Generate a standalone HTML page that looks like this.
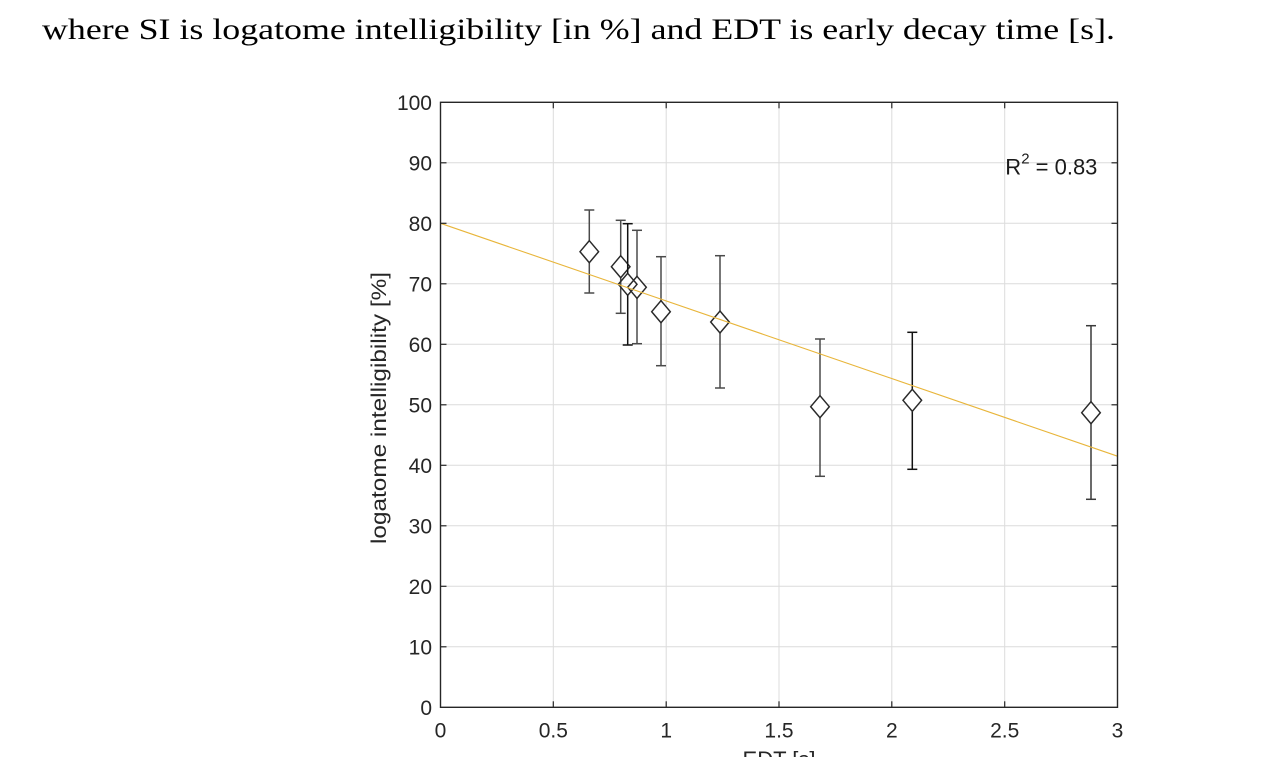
<!DOCTYPE html>
<html>
<head>
<meta charset="utf-8">
<style>
html,body{margin:0;padding:0;background:#fff;}
svg{display:block;}
</style>
</head>
<body>
<svg width="1264" height="757" viewBox="0 0 1264 757" xmlns="http://www.w3.org/2000/svg">
<rect width="1264" height="757" fill="#fff"/>
<!-- top sentence -->
<text x="42" y="39" font-family="'Liberation Serif', serif" font-size="30" fill="#000" textLength="1073" lengthAdjust="spacingAndGlyphs">where SI is logatome intelligibility [in %] and EDT is early decay time [s].</text>

<!-- plot background -->
<rect x="440.5" y="102.3" width="677" height="605" fill="#fff"/>

<!-- grid -->
<g stroke="#dcdcdc" stroke-width="1">
  <line x1="553.3" y1="102.3" x2="553.3" y2="707.3"/>
  <line x1="666.2" y1="102.3" x2="666.2" y2="707.3"/>
  <line x1="779" y1="102.3" x2="779" y2="707.3"/>
  <line x1="891.8" y1="102.3" x2="891.8" y2="707.3"/>
  <line x1="1004.7" y1="102.3" x2="1004.7" y2="707.3"/>
  <line x1="440.5" y1="646.8" x2="1117.5" y2="646.8"/>
  <line x1="440.5" y1="586.3" x2="1117.5" y2="586.3"/>
  <line x1="440.5" y1="525.8" x2="1117.5" y2="525.8"/>
  <line x1="440.5" y1="465.3" x2="1117.5" y2="465.3"/>
  <line x1="440.5" y1="404.8" x2="1117.5" y2="404.8"/>
  <line x1="440.5" y1="344.3" x2="1117.5" y2="344.3"/>
  <line x1="440.5" y1="283.8" x2="1117.5" y2="283.8"/>
  <line x1="440.5" y1="223.3" x2="1117.5" y2="223.3"/>
  <line x1="440.5" y1="162.8" x2="1117.5" y2="162.8"/>
</g>

<!-- error bars + markers -->
<g fill="#fff" stroke-width="1.5">
  <!-- P1 -->
  <g stroke="#4a4a4a">
    <line x1="589.3" y1="210" x2="589.3" y2="293"/>
    <line x1="584.3" y1="210" x2="594.3" y2="210"/>
    <line x1="584.3" y1="293" x2="594.3" y2="293"/>
  </g>
  <polygon points="589.3,240.7 598.6,251.7 589.3,262.7 580,251.7" stroke="#2a2a2a"/>
  <!-- P2 -->
  <g stroke="#4a4a4a">
    <line x1="620.7" y1="220.3" x2="620.7" y2="313.3"/>
    <line x1="615.7" y1="220.3" x2="625.7" y2="220.3"/>
    <line x1="615.7" y1="313.3" x2="625.7" y2="313.3"/>
  </g>
  <polygon points="620.7,255.7 630,266.7 620.7,277.7 611.4,266.7" stroke="#2a2a2a"/>
  <!-- P4 -->
  <g stroke="#4a4a4a">
    <line x1="637" y1="230.3" x2="637" y2="343.7"/>
    <line x1="632" y1="230.3" x2="642" y2="230.3"/>
    <line x1="632" y1="343.7" x2="642" y2="343.7"/>
  </g>
  <polygon points="637,276.3 646.3,287.3 637,298.3 627.7,287.3" stroke="#2a2a2a"/>
  <!-- P3 -->
  <polygon points="627.7,273.3 637,284.3 627.7,295.3 618.4,284.3" stroke="#2a2a2a" fill="none"/>
  <g stroke="#111">
    <line x1="627.7" y1="223.7" x2="627.7" y2="273.3"/>
    <line x1="627.7" y1="295.3" x2="627.7" y2="345"/>
    <line x1="622.7" y1="223.7" x2="632.7" y2="223.7"/>
    <line x1="622.7" y1="345" x2="632.7" y2="345"/>
  </g>
  <!-- P5 -->
  <g stroke="#4a4a4a">
    <line x1="661" y1="256.7" x2="661" y2="365.7"/>
    <line x1="656" y1="256.7" x2="666" y2="256.7"/>
    <line x1="656" y1="365.7" x2="666" y2="365.7"/>
  </g>
  <polygon points="661,300.7 670.3,311.7 661,322.7 651.7,311.7" stroke="#2a2a2a"/>
  <!-- P6 -->
  <g stroke="#4a4a4a">
    <line x1="720" y1="255.7" x2="720" y2="388"/>
    <line x1="715" y1="255.7" x2="725" y2="255.7"/>
    <line x1="715" y1="388" x2="725" y2="388"/>
  </g>
  <polygon points="720,311 729.3,322 720,333 710.7,322" stroke="#2a2a2a"/>
  <!-- P7 -->
  <g stroke="#4a4a4a">
    <line x1="820" y1="339" x2="820" y2="476.3"/>
    <line x1="815" y1="339" x2="825" y2="339"/>
    <line x1="815" y1="476.3" x2="825" y2="476.3"/>
  </g>
  <polygon points="820,395.7 829.3,406.7 820,417.7 810.7,406.7" stroke="#2a2a2a"/>
  <!-- P8 -->
  <g stroke="#111">
    <line x1="912.3" y1="332.3" x2="912.3" y2="469.3"/>
    <line x1="907.3" y1="332.3" x2="917.3" y2="332.3"/>
    <line x1="907.3" y1="469.3" x2="917.3" y2="469.3"/>
  </g>
  <polygon points="912.3,389.3 921.6,400.3 912.3,411.3 903,400.3" stroke="#2a2a2a"/>
  <!-- P9 -->
  <g stroke="#3a3a3a">
    <line x1="1091" y1="325.7" x2="1091" y2="499.3"/>
    <line x1="1086" y1="325.7" x2="1096" y2="325.7"/>
    <line x1="1086" y1="499.3" x2="1096" y2="499.3"/>
  </g>
  <polygon points="1091,401.7 1100.3,412.7 1091,423.7 1081.7,412.7" stroke="#2a2a2a"/>
</g>

<!-- fit line -->
<line x1="440.5" y1="223.3" x2="1117.5" y2="456.2" stroke="#E8B53A" stroke-width="1.1"/>

<!-- axes box -->
<rect x="440.5" y="102.3" width="677" height="605" fill="none" stroke="#262626" stroke-width="1.4"/>

<!-- ticks -->
<g stroke="#262626" stroke-width="1.2">
  <line x1="553.3" y1="707.3" x2="553.3" y2="701.3"/><line x1="553.3" y1="102.3" x2="553.3" y2="108.3"/>
  <line x1="666.2" y1="707.3" x2="666.2" y2="701.3"/><line x1="666.2" y1="102.3" x2="666.2" y2="108.3"/>
  <line x1="779" y1="707.3" x2="779" y2="701.3"/><line x1="779" y1="102.3" x2="779" y2="108.3"/>
  <line x1="891.8" y1="707.3" x2="891.8" y2="701.3"/><line x1="891.8" y1="102.3" x2="891.8" y2="108.3"/>
  <line x1="1004.7" y1="707.3" x2="1004.7" y2="701.3"/><line x1="1004.7" y1="102.3" x2="1004.7" y2="108.3"/>
  <line x1="440.5" y1="646.8" x2="446.5" y2="646.8"/><line x1="1117.5" y1="646.8" x2="1111.5" y2="646.8"/>
  <line x1="440.5" y1="586.3" x2="446.5" y2="586.3"/><line x1="1117.5" y1="586.3" x2="1111.5" y2="586.3"/>
  <line x1="440.5" y1="525.8" x2="446.5" y2="525.8"/><line x1="1117.5" y1="525.8" x2="1111.5" y2="525.8"/>
  <line x1="440.5" y1="465.3" x2="446.5" y2="465.3"/><line x1="1117.5" y1="465.3" x2="1111.5" y2="465.3"/>
  <line x1="440.5" y1="404.8" x2="446.5" y2="404.8"/><line x1="1117.5" y1="404.8" x2="1111.5" y2="404.8"/>
  <line x1="440.5" y1="344.3" x2="446.5" y2="344.3"/><line x1="1117.5" y1="344.3" x2="1111.5" y2="344.3"/>
  <line x1="440.5" y1="283.8" x2="446.5" y2="283.8"/><line x1="1117.5" y1="283.8" x2="1111.5" y2="283.8"/>
  <line x1="440.5" y1="223.3" x2="446.5" y2="223.3"/><line x1="1117.5" y1="223.3" x2="1111.5" y2="223.3"/>
  <line x1="440.5" y1="162.8" x2="446.5" y2="162.8"/><line x1="1117.5" y1="162.8" x2="1111.5" y2="162.8"/>
</g>

<!-- y tick labels -->
<g font-family="'Liberation Sans', Arial, sans-serif" font-size="21" fill="#262626" text-anchor="end">
  <text x="432" y="715">0</text>
  <text x="432" y="654.5">10</text>
  <text x="432" y="594">20</text>
  <text x="432" y="533.5">30</text>
  <text x="432" y="473">40</text>
  <text x="432" y="412.5">50</text>
  <text x="432" y="352">60</text>
  <text x="432" y="291.5">70</text>
  <text x="432" y="231">80</text>
  <text x="432" y="170.5">90</text>
  <text x="432" y="110">100</text>
</g>

<!-- x tick labels -->
<g font-family="'Liberation Sans', Arial, sans-serif" font-size="21" fill="#262626" text-anchor="middle">
  <text x="440.5" y="737.7">0</text>
  <text x="553.3" y="737.7">0.5</text>
  <text x="666.2" y="737.7">1</text>
  <text x="779" y="737.7">1.5</text>
  <text x="891.8" y="737.7">2</text>
  <text x="1004.7" y="737.7">2.5</text>
  <text x="1117.5" y="737.7">3</text>
</g>

<!-- x label (cut off) -->
<text x="779" y="767" font-family="'Liberation Sans', Arial, sans-serif" font-size="22" fill="#262626" text-anchor="middle">EDT [s]</text>

<!-- y label -->
<text transform="translate(386,408) rotate(-90)" font-family="'Liberation Sans', Arial, sans-serif" font-size="21" fill="#262626" text-anchor="middle" textLength="272" lengthAdjust="spacingAndGlyphs">logatome intelligibility [%]</text>

<!-- R^2 annotation -->
<text x="1005.3" y="174.3" font-family="'Liberation Sans', Arial, sans-serif" font-size="22" fill="#1a1a1a">R<tspan font-size="15" dy="-11">2</tspan><tspan dy="11"> = 0.83</tspan></text>
</svg>
</body>
</html>
